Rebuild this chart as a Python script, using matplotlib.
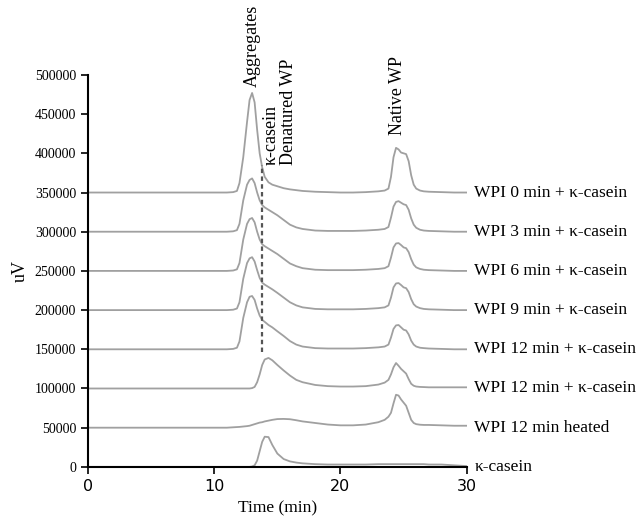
#!/usr/bin/env python3
"""
Stacked SEC chromatograms of WPI + kappa-casein mixtures (offset traces)
"""
import matplotlib
matplotlib.use("Agg")
import matplotlib.pyplot as plt

# retention time grid (min)
time_min = [0, 5, 10, 11, 11.5, 11.8, 12.0, 12.3, 12.6, 12.8, 13.0, 13.2, 13.4, 13.6, 13.8,
            14.0, 14.3, 14.6, 15.0, 15.5, 16.0, 16.5, 17.0, 18.0, 19.0, 20.0, 21.0, 22.0,
            23.0, 23.5, 23.8, 24.0, 24.2, 24.4, 24.6, 24.8, 25.0, 25.2, 25.4, 25.6, 25.8,
            26.0, 26.3, 26.6, 27.0, 28.0, 29.0, 30.0]

# signal above each trace's own baseline (uV)
wpi_0 = [0, 0, 0, 0, 500, 2000, 12000, 45000, 90000, 118000, 127000, 115000, 80000, 50000, 32000,
         20000, 13000, 10000, 8000, 5500, 4000, 3000, 2000, 1000, 500, 0, 0, 500,
         1500, 2500, 5000, 20000, 45000, 57000, 55000, 51000, 50000, 49000, 40000, 22000, 10000,
         5000, 2500, 1500, 1000, 500, 0, 0]
wpi_3 = [0, 0, 0, 0, 500, 2000, 10000, 40000, 60000, 66000, 68000, 62000, 50000, 40000, 34000,
         31000, 28000, 25000, 21000, 15000, 9000, 5500, 3500, 1500, 1000, 1000, 1000, 1500,
         2500, 3500, 6000, 18000, 32000, 38000, 39000, 37000, 35000, 34000, 28000, 17000, 9000,
         5000, 2500, 1500, 1000, 500, 0, 0]
wpi_6 = [0, 0, 0, 0, 500, 2000, 10000, 40000, 60000, 66000, 67500, 62000, 50000, 40000, 34000,
         31500, 28500, 25500, 21500, 15500, 9500, 6000, 3500, 1500, 1000, 1000, 1000, 1500,
         2500, 3500, 6000, 17000, 30000, 35000, 35500, 33000, 30000, 29000, 24000, 15000, 8000,
         4500, 2500, 1500, 1000, 500, 0, 0]
wpi_9 = [0, 0, 0, 0, 500, 2000, 10000, 40000, 60000, 66000, 67500, 62000, 51000, 41000, 35000,
         32500, 29500, 26500, 22000, 16000, 10000, 6000, 3500, 1500, 1000, 1000, 1000, 1500,
         2500, 3500, 6000, 16000, 29000, 34000, 34500, 32000, 29000, 28000, 23000, 14000, 7500,
         4500, 2500, 1500, 1000, 500, 0, 0]
wpi_12_a = [0, 0, 0, 0, 500, 2000, 10000, 40000, 60000, 67000, 68000, 63000, 52000, 43000, 37500,
            35000, 31000, 28000, 23000, 17000, 10500, 6000, 3500, 1500, 1000, 1000, 1000, 1500,
            2500, 3500, 6000, 15000, 26000, 30500, 31000, 28000, 25000, 24000, 19000, 11000, 6000,
            3500, 2000, 1500, 1000, 500, 0, 0]
wpi_12_b = [0, 0, 0, 0, 0, 0, 0, 0, 0, 0, 500, 2000, 8000, 18000, 30000,
            37000, 39000, 36000, 30000, 23000, 16500, 11000, 8000, 4500, 3000, 2500, 2500, 3000,
            5000, 7500, 11000, 18000, 27000, 32500, 29000, 25000, 22000, 19000, 12000, 6000, 3500,
            2500, 2000, 1800, 1500, 1500, 1500, 1500]
wpi_12_heated = [0, 0, 0, 0, 500, 800, 1000, 1500, 2000, 2500, 3500, 4500, 5500, 6500, 7000,
                 8000, 9000, 10000, 11000, 11200, 10800, 9500, 8000, 6000, 4000, 3000, 3000, 4000,
                 7000, 10000, 14000, 19000, 31000, 42000, 41000, 36000, 32000, 28000, 19000, 10000, 6000,
                 4500, 3800, 3500, 3500, 3000, 2500, 2500]
k_casein = [0, 0, 0, 0, 0, 0, 0, 0, 0, 0, 500, 2000, 8000, 20000, 32000,
            38500, 38000, 28000, 17000, 10000, 7000, 5500, 4500, 3500, 3000, 3000, 3000, 3000,
            3500, 3500, 3500, 3500, 3500, 3500, 3500, 3500, 3500, 3500, 3500, 3500, 3500,
            3500, 3500, 3500, 3000, 3000, 2000, 1000]

traces = [wpi_0, wpi_3, wpi_6, wpi_9, wpi_12_a, wpi_12_b, wpi_12_heated, k_casein]
baselines = [350000, 300000, 250000, 200000, 150000, 100000, 50000, 0]
trace_labels = ["WPI 0 min + κ-casein", "WPI 3 min + κ-casein", "WPI 6 min + κ-casein",
                "WPI 9 min + κ-casein", "WPI 12 min + κ-casein", "WPI 12 min + κ-casein",
                "WPI 12 min heated", "κ-casein"]

# peak annotations: (text, time, uV at text bottom)
peak_names = ["Aggregates", "κ-casein", "Denatured WP", "Native WP"]
peak_x = [13.05, 14.55, 15.85, 24.5]
peak_y = [484000, 385000, 385000, 423000]

# dashed marker for kappa-casein elution
dash_x = 13.8
dash_y = [147000, 385000]

SERIF = "Liberation Serif"


def main():
    fig = plt.figure(figsize=(6.42, 5.24), dpi=100)
    ax = fig.add_axes([0.137, 0.109, 0.590, 0.748])

    for sig, base in zip(traces, baselines):
        ax.plot(time_min, [v + base for v in sig], color="#a0a0a0", lw=1.3)

    ax.vlines(dash_x, dash_y[0], dash_y[1], colors="#555555", lw=1.6,
              linestyles=(0, (2, 1.5)))

    for lab, base in zip(trace_labels, baselines):
        ax.text(30.6, base, lab, fontsize=12.5, family=SERIF, va="center", ha="left",
                clip_on=False)

    for name, px, py in zip(peak_names, peak_x, peak_y):
        ax.text(px, py, name, rotation=90, fontsize=13, family=SERIF,
                ha="center", va="bottom", clip_on=False)

    ax.set_xlim(0, 30)
    ax.set_ylim(0, 500000)
    ax.set_xticks([0, 10, 20, 30])
    ax.set_yticks(range(0, 500001, 50000))
    ax.set_yticklabels([str(v) for v in range(0, 500001, 50000)], family=SERIF, fontsize=10)
    ax.tick_params(axis="x", labelsize=11.5, length=5, width=1.2, direction="out")
    ax.tick_params(axis="y", length=5, width=1.2, direction="out")
    for s in ("top", "right"):
        ax.spines[s].set_visible(False)
    for s in ("left", "bottom"):
        ax.spines[s].set_linewidth(1.5)

    ax.set_xlabel("Time (min)", family=SERIF, fontsize=12.5, labelpad=5)
    ax.set_ylabel("uV", family=SERIF, fontsize=13, labelpad=4)

    fig.savefig("out.png", dpi=100)


if __name__ == '__main__':
    main()
